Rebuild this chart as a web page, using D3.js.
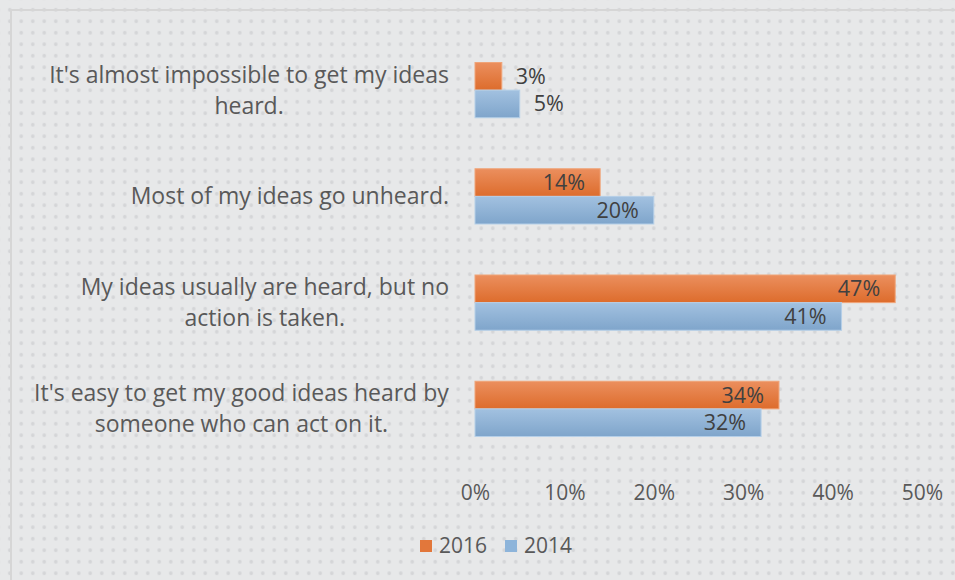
<!DOCTYPE html>
<html>
<head>
<meta charset="utf-8">
<script src="https://cdn.jsdelivr.net/npm/d3@7"></script>
<style>
  body { margin: 0; background: #e7e8e9; }
  text { font-family: "Open Sans", sans-serif; }
</style>
</head>
<body>
<div id="chart"></div>
<script>
// data
const categories = [
  ["It's almost impossible to get my ideas", "heard."],
  ["Most of my ideas go unheard."],
  ["My ideas usually are heard, but no", "action is taken."],
  ["It's easy to get my good ideas heard by", "someone who can act on it."]
];
const seriesNames = ["2016", "2014"];
const values2016 = [0.03, 0.14, 0.47, 0.34];
const values2014 = [0.05, 0.20, 0.41, 0.32];
const tickValues = [0, 0.1, 0.2, 0.3, 0.4, 0.5];

const width = 955, height = 580;

const rows = categories.map((c, i) => ({
  key: i,
  lines: c,
  vals: [values2016[i], values2014[i]]
}));

const svg = d3.select("#chart").append("svg")
  .attr("width", width)
  .attr("height", height);

const defs = svg.append("defs");

// dotted background
const pat = defs.append("pattern")
  .attr("id", "dots")
  .attr("width", 11.5).attr("height", 11.5)
  .attr("patternUnits", "userSpaceOnUse")
  .attr("x", 4).attr("y", 4);
pat.append("rect").attr("width", 11.5).attr("height", 11.5).attr("fill", "#e7e8e9");
pat.append("circle").attr("cx", 5.75).attr("cy", 5.75).attr("r", 1.8).attr("fill", "#d4d5d7");

const grads = [
  {id: "g2016", top: "#eb8f5e", bottom: "#dd6c2c"},
  {id: "g2014", top: "#a2c1e0", bottom: "#7fa5cb"}
];
grads.forEach(g => {
  const lg = defs.append("linearGradient").attr("id", g.id)
    .attr("x1", 0).attr("y1", 0).attr("x2", 0).attr("y2", 1);
  lg.append("stop").attr("offset", "0%").attr("stop-color", g.top);
  lg.append("stop").attr("offset", "100%").attr("stop-color", g.bottom);
});

svg.append("rect").attr("width", width).attr("height", height).attr("fill", "url(#dots)");
// chart area border
svg.append("rect")
  .attr("x", 11).attr("y", 10)
  .attr("width", width).attr("height", height)
  .attr("fill", "none")
  .attr("stroke", "#d6d6d6")
  .attr("stroke-width", 2);

const x = d3.scaleLinear()
  .domain([0, 0.5])
  .range([475, 922]);

const y0 = d3.scaleBand()
  .domain(rows.map(d => d.key))
  .range([37, 462])
  .paddingInner(0.48)
  .paddingOuter(0.24);

const y1 = d3.scaleBand()
  .domain([0, 1])
  .range([0, y0.bandwidth()]);

const fills = ["url(#g2016)", "url(#g2014)"];
const strokes = ["#f0a478", "#b5cfe8"];

// x axis labels
const xAxis = d3.axisBottom(x)
  .tickValues(tickValues)
  .tickFormat(d3.format(".0%"))
  .tickSize(0)
  .tickPadding(0);

svg.append("g")
  .attr("transform", "translate(0,493)")
  .call(xAxis)
  .call(g => g.select(".domain").remove())
  .call(g => g.selectAll("text")
    .attr("y", 0)
    .attr("dy", "0.35em")
    .attr("font-size", 21)
    .attr("fill", "#595959")
    .attr("font-family", "'Open Sans', sans-serif"));

// category labels
const catG = svg.append("g");
rows.forEach(r => {
  const cy = y0(r.key) + y0.bandwidth() / 2;
  const lh = 31;
  const t = catG.append("text")
    .attr("text-anchor", "middle")
    .attr("font-size", 23)
    .attr("fill", "#595959");
  r.lines.forEach((ln, i) => {
    t.append("tspan")
      .attr("x", 0)
      .attr("y", cy + (i - (r.lines.length - 1) / 2) * lh)
      .attr("dy", "0.35em")
      .text(ln);
  });
});
// right-align the block, centre each line within it
catG.selectAll("text").each(function() {
  const bb = this.getBBox();
  d3.select(this).attr("transform", `translate(${449 - bb.width / 2},0)`);
});

// bars
const groups = svg.append("g").selectAll("g")
  .data(rows)
  .join("g")
  .attr("transform", d => `translate(0,${y0(d.key)})`);

groups.selectAll("rect")
  .data(d => d.vals.map((v, i) => ({v, i})))
  .join("rect")
  .attr("x", x(0))
  .attr("y", d => y1(d.i))
  .attr("width", d => x(d.v) - x(0))
  .attr("height", y1.bandwidth())
  .attr("fill", d => fills[d.i])
  .attr("stroke", d => strokes[d.i])
  .attr("stroke-width", 1);

groups.selectAll("text")
  .data(d => d.vals.map((v, i) => ({v, i})))
  .join("text")
  .attr("y", d => y1(d.i) + y1.bandwidth() / 2)
  .attr("dy", "0.35em")
  .attr("font-size", 21.5)
  .attr("fill", "#404040")
  .attr("x", d => d.v < 0.1 ? x(d.v) + 14 : x(d.v) - 15)
  .attr("text-anchor", d => d.v < 0.1 ? "start" : "end")
  .text(d => d3.format(".0%")(d.v));

// legend
const legendColors = ["#e2773b", "#8db4da"];
const legend = svg.append("g").attr("transform", "translate(420,546)");
const legX = [0, 85];
seriesNames.forEach((s, i) => {
  legend.append("rect")
    .attr("x", legX[i]).attr("y", -6)
    .attr("width", 12).attr("height", 12)
    .attr("fill", legendColors[i]);
  legend.append("text")
    .attr("x", legX[i] + 19)
    .attr("y", 0)
    .attr("dy", "0.35em")
    .attr("font-size", 21)
    .attr("fill", "#595959")
    .text(s);
});
</script>
</body>
</html>
